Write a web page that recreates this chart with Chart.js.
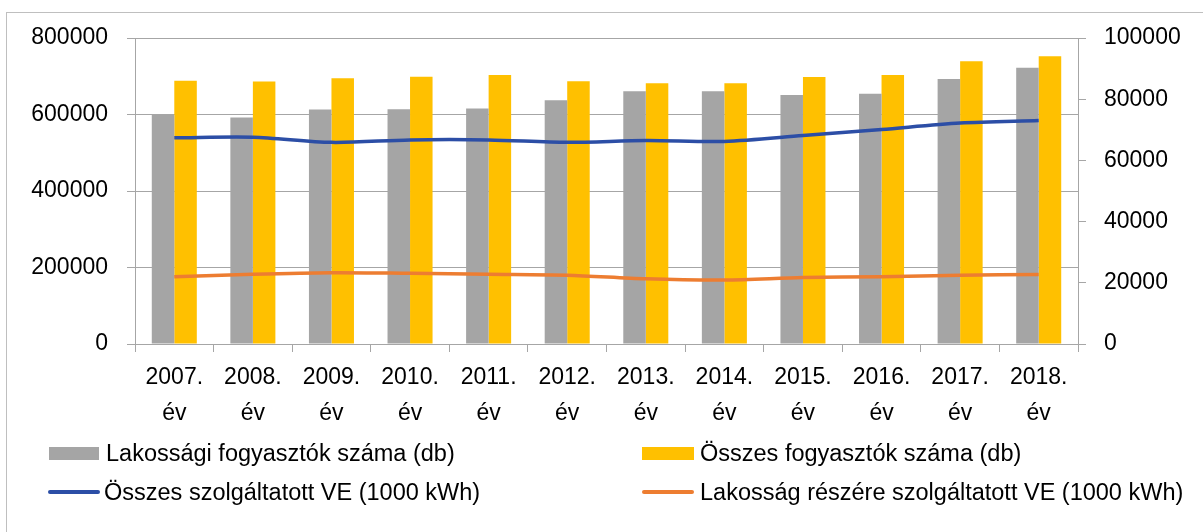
<!DOCTYPE html>
<html lang="hu">
<head>
<meta charset="UTF-8">
<title>Fogyasztók és szolgáltatott villamos energia</title>
<script src="https://cdn.jsdelivr.net/npm/chart.js"></script>
<style>
  html, body { margin: 0; padding: 0; background: #fff; }
  #wrap { position: relative; width: 1203px; height: 532px; overflow: hidden; font-family: "Liberation Sans", Arial, sans-serif; }
  #frame { position: absolute; left: 6px; top: 12px; width: 1300px; height: 600px; border: 1px solid #bfbfbf; box-sizing: border-box; }
  canvas { position: absolute; left: 0; top: 0; }
  .lg { position: absolute; height: 26px; line-height: 26px; font-size: 23.5px; color: #000; white-space: nowrap; }
  .lg .mk { position: absolute; left: 0; }
  .lg span.t { position: absolute; top: 0; }
</style>
</head>
<body>
<div id="wrap">
  <div id="frame"></div>
  <canvas id="chart" width="1203" height="532"></canvas>
  <div id="legend"></div>
</div>
<script>
  const years = ['2007.', '2008.', '2009.', '2010.', '2011.', '2012.', '2013.', '2014.', '2015.', '2016.', '2017.', '2018.'];
  const lakossagiFogyasztok = [599000, 592000, 613000, 614000, 616000, 637000, 661000, 661000, 651000, 654000, 693000, 722000];
  const osszesFogyasztok = [688000, 686000, 695000, 699000, 703000, 687000, 682000, 682000, 698000, 703000, 739000, 752000];
  const osszesVE = [67400, 67600, 65900, 66700, 66700, 65900, 66500, 66200, 68100, 70100, 72200, 73000];
  const lakossagVE = [22000, 22800, 23300, 23100, 22800, 22500, 21300, 20900, 21700, 22000, 22500, 22700];

  const GRID = '#a6a6a6';
  const FONT = { family: '"Liberation Sans", Arial, sans-serif', size: 23 };

  const datasets = [
    { type: 'bar', label: 'Lakossági fogyasztók száma (db)', data: lakossagiFogyasztok,
      backgroundColor: '#a5a5a5', yAxisID: 'y', order: 2, barPercentage: 1, categoryPercentage: 0.573 },
    { type: 'bar', label: 'Összes fogyasztók száma (db)', data: osszesFogyasztok,
      backgroundColor: '#ffc000', yAxisID: 'y', order: 2, barPercentage: 1, categoryPercentage: 0.573 },
    { type: 'line', label: 'Összes szolgáltatott VE (1000 kWh)', data: osszesVE,
      borderColor: '#2c4ea6', borderWidth: 3.5, pointRadius: 0, tension: 0.3, yAxisID: 'y1', order: 0 },
    { type: 'line', label: 'Lakosság részére szolgáltatott VE (1000 kWh)', data: lakossagVE,
      borderColor: '#ed7d31', borderWidth: 3.5, pointRadius: 0, tension: 0.3, yAxisID: 'y1', order: 0 }
  ];

  const plain = v => String(v);

  new Chart(document.getElementById('chart'), {
    data: { labels: years.map(y => [y, 'év']), datasets },
    options: {
      responsive: false,
      animation: false,
      layout: { padding: { top: 38, left: 0, right: 0, bottom: 0 } },
      plugins: { legend: { display: false }, tooltip: { enabled: false } },
      scales: {
        x: {
          grid: { drawOnChartArea: false, color: GRID, tickLength: 8 },
          border: { color: GRID },
          ticks: { color: '#000', font: { ...FONT, lineHeight: '36px' }, padding: 8, maxRotation: 0, autoSkip: false },
          afterFit: s => { s.height = 188; }
        },
        y: {
          position: 'left', min: 0, max: 800000,
          grid: { color: GRID, tickLength: 8 },
          border: { color: GRID },
          ticks: { stepSize: 200000, color: '#000', font: FONT, padding: 19, callback: plain },
          afterFit: s => { s.width = 135; }
        },
        y1: {
          position: 'right', min: 0, max: 100000,
          grid: { drawOnChartArea: false, color: GRID, tickLength: 8 },
          border: { color: GRID },
          ticks: { stepSize: 20000, color: '#000', font: FONT, padding: 18, callback: plain },
          afterFit: s => { s.width = 125; }
        }
      }
    }
  });

  // legend laid out in two columns like the original
  const legendPos = [
    { left: 48, top: 440, text: 58, kind: 'box' },
    { left: 642, top: 440, text: 58, kind: 'box' },
    { left: 48, top: 479, text: 56, kind: 'line' },
    { left: 642, top: 479, text: 58, kind: 'line' }
  ];
  const legend = document.getElementById('legend');
  datasets.forEach((ds, i) => {
    const p = legendPos[i];
    const item = document.createElement('div');
    item.className = 'lg';
    item.style.left = p.left + 'px';
    item.style.top = p.top + 'px';
    const mk = document.createElement('div');
    mk.className = 'mk';
    if (p.kind === 'box') {
      mk.style.cssText = `left:${i === 0 ? 1 : 0}px;top:7px;width:${i === 0 ? 50 : 52}px;height:13px;background:${ds.backgroundColor}`;
    } else {
      mk.style.cssText = `top:11px;width:52px;height:3.5px;border-radius:2px;background:${ds.borderColor}`;
    }
    const t = document.createElement('span');
    t.className = 't';
    t.style.left = p.text + 'px';
    t.textContent = ds.label;
    item.appendChild(mk);
    item.appendChild(t);
    legend.appendChild(item);
  });
</script>
</body>
</html>
